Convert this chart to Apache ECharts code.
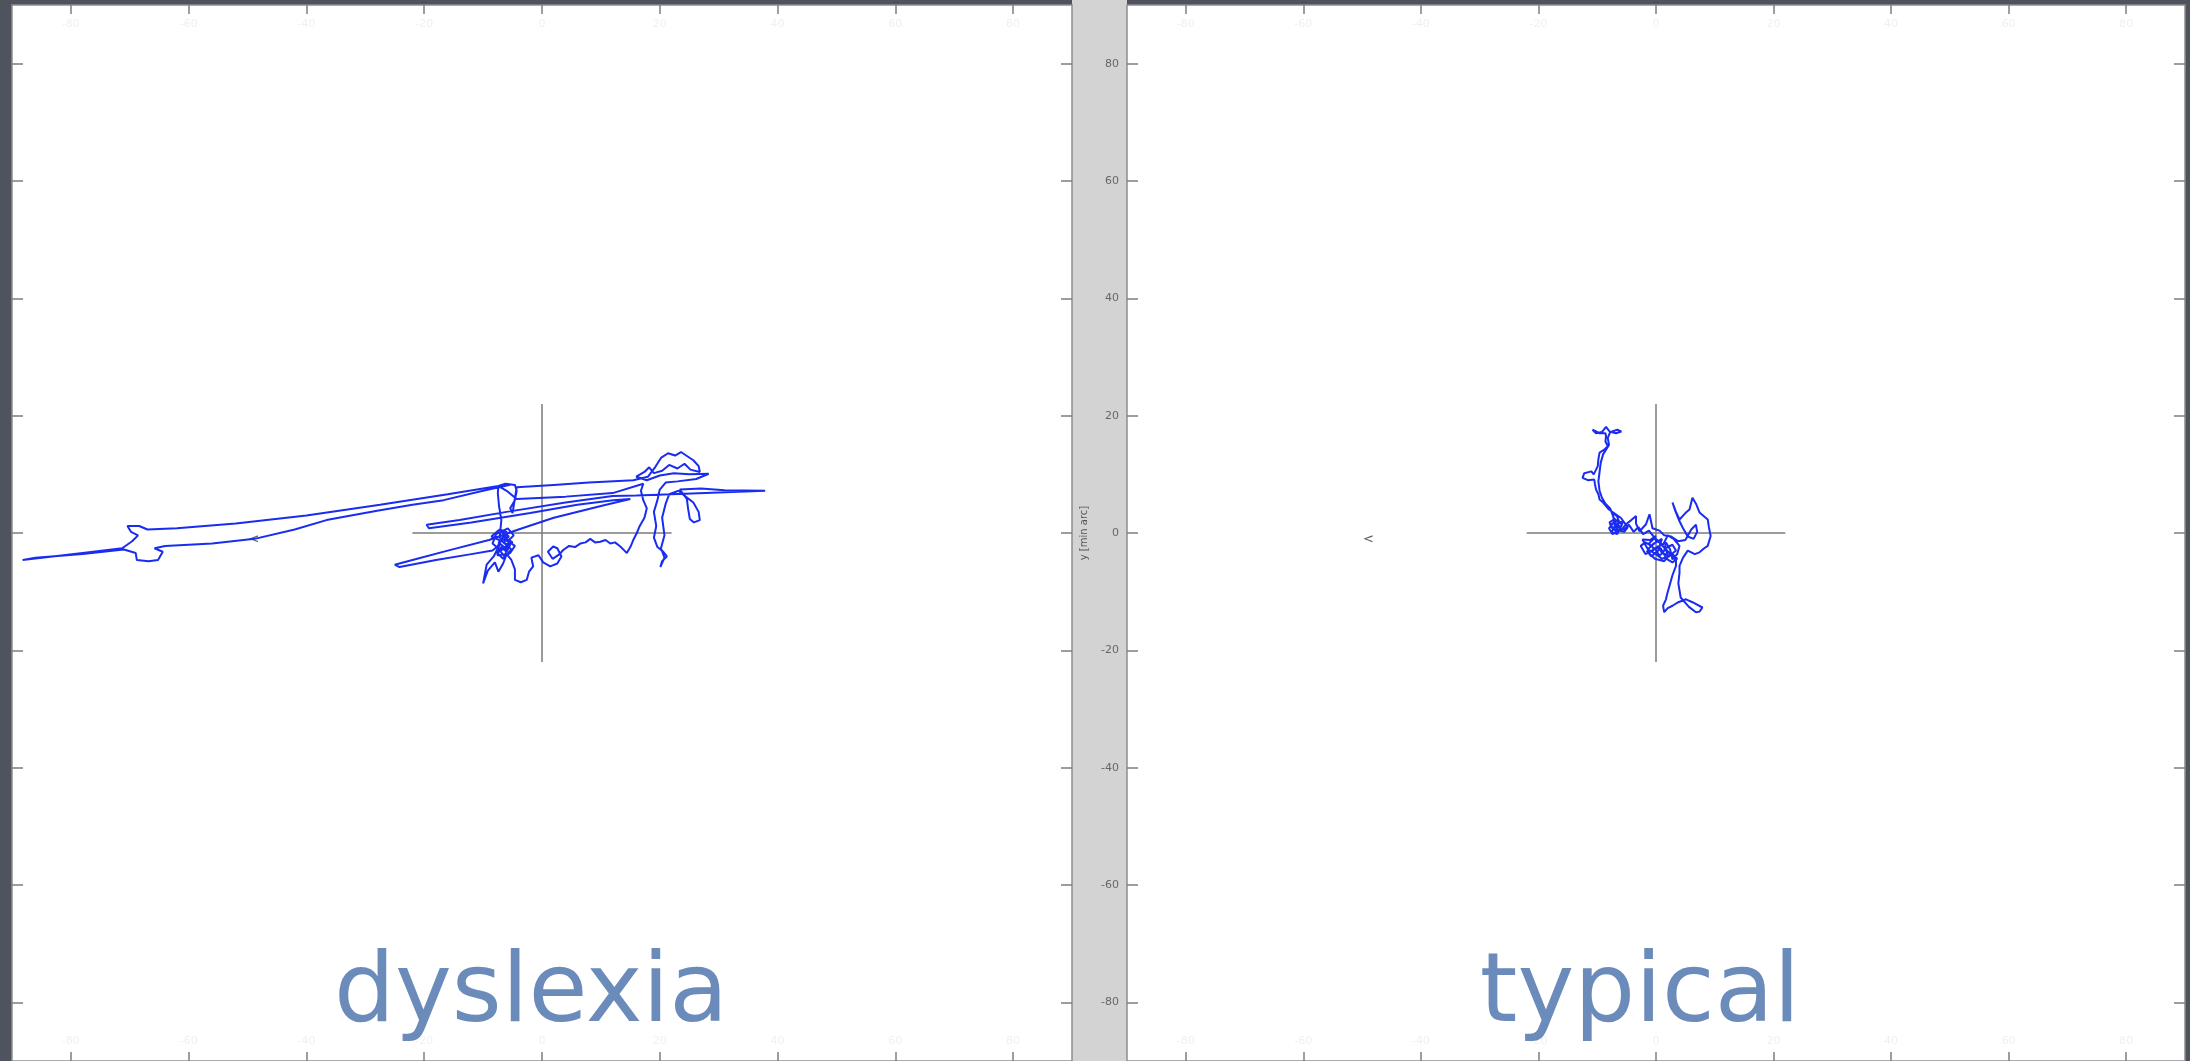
<!DOCTYPE html>
<html>
<head>
<meta charset="utf-8">
<script src="https://cdn.jsdelivr.net/npm/echarts@6/dist/echarts.min.js"></script>
<style>
html,body{margin:0;padding:0;background:#4f535e;width:2190px;height:1061px;overflow:hidden;}
#chart{width:2190px;height:1061px;}
</style>
</head>
<body>
<div id="chart"></div>
<script>
// ---- data ----
const panelTitles = ["dyslexia", "typical"];
const axisTickValues = [-80, -60, -40, -20, 0, 20, 40, 60, 80];
const axisRange = [-90, 90];
const yAxisTitle = "y [min arc]";
const crossH = [[-22, 0], [22, 0]];
const crossV = [[0, -22], [0, 22]];
const targetMarker = [[-49, -1]];

// dyslexia fixation trace [x, y] in min arc
const dyslexiaTrace = [
[-6.0,-1.0],[-6.8,0.2],[-5.6,-0.6],[-7.4,-1.6],[-6.2,-2.6],[-7.8,-3.2],[-6.6,-4.4],[-5.2,-2.8],[-6.8,-1.4],[-8.6,-0.6],[-7.2,0.6],[-6.0,0.2],
[-6.4,-1.8],[-5.4,-2.0],[-6.0,-3.2],[-7.0,-2.4],[-7.6,-3.8],[-6.2,-3.6],[-5.6,-1.2],[-4.8,-0.4],[-5.8,0.8],[-7.8,-0.2],[-8.4,-1.8],[-7.0,-3.0],[-6.0,-2.2],
[-5.0,-1.6],[-6.6,-0.6],[-7.6,-2.4],[-6.4,-4.0],[-5.4,-3.4],[-4.6,-2.2],[-5.8,-1.4],[-7.2,-0.8],
[-6.9,2.2],[-7.3,4.6],[-7.5,6.8],[-7.4,8.0],[-6.2,8.4],[-4.6,8.2],[-4.3,7.2],[-4.6,5.6],[-5.4,4.2],[-5.0,3.4],
[-4.3,7.8],[2.0,8.2],[8.0,8.6],[15.5,9.0],[18.0,9.6],
[19.2,11.2],[20.2,12.8],[21.4,13.6],[22.6,13.2],[23.6,13.8],[24.8,13.0],[25.7,12.4],[26.6,11.4],[26.8,10.4],[25.2,10.8],[24.2,11.8],[23.0,11.0],[21.6,11.6],[20.4,10.6],[19.0,10.2],[18.2,11.2],[17.4,10.4],[16.0,9.6],[17.8,9.0],[20.0,9.8],[22.4,10.2],[25.0,10.0],[28.3,10.1],[26.2,9.2],[23.0,8.8],[21.0,8.6],
[20.0,7.4],[19.6,5.6],[19.0,3.6],[19.4,1.2],[19.0,-0.8],[19.6,-2.4],[20.6,-3.2],[21.2,-4.0],[20.4,-4.8],[20.1,-5.8],[20.8,-4.2],[20.2,-2.6],[20.8,-0.4],[20.4,2.6],[21.0,5.0],[21.6,6.6],
[23.2,7.2],[24.4,6.2],[25.7,5.2],[26.6,3.6],[26.8,2.2],[25.8,1.8],[25.1,2.4],[24.8,4.2],[24.6,5.8],[23.4,7.4],
[27.0,7.6],[31.0,7.3],[37.9,7.2],
[30.0,6.9],[22.0,6.6],[16.0,6.4],[12.0,6.3],
[4.0,5.2],[-6.0,3.6],[-14.0,2.2],[-19.6,1.4],[-19.2,0.8],[-12.0,1.8],[-2.0,3.4],[6.0,4.8],[12.1,5.6],[15.0,5.8],
[10.0,4.6],[2.0,2.6],[-4.0,0.6],[-9.0,-1.2],[-16.0,-3.0],[-22.0,-4.6],[-25.0,-5.4],[-24.2,-5.8],[-18.0,-4.6],[-12.0,-3.6],[-8.4,-3.0],
[-7.2,-2.0],[-8.2,-4.0],[-9.4,-5.4],[-10.0,-8.6],[-9.2,-6.4],[-8.0,-5.0],[-7.4,-6.6],[-6.6,-5.2],[-6.0,-3.6],[-5.2,-4.6],[-4.6,-6.2],[-4.6,-8.0],[-3.6,-8.4],[-2.6,-8.0],[-2.2,-6.6],[-1.5,-5.7],[-1.8,-4.2],[-0.6,-3.8],[0.2,-5.0],[1.4,-5.7],[2.6,-5.2],[3.3,-4.0],[2.6,-2.6],[1.9,-2.3],[1.0,-3.2],[1.8,-4.4],[3.0,-3.6],[3.6,-2.9],
[4.6,-2.2],[5.6,-2.4],[6.5,-1.8],[7.4,-1.6],[8.2,-1.0],[9.0,-1.6],[9.9,-1.5],[10.8,-1.2],[11.6,-1.8],[12.4,-1.6],[13.3,-2.3],[14.0,-3.0],[14.4,-3.4],[15.0,-2.4],[15.5,-1.2],[16.1,0.0],[16.6,1.2],[17.4,2.6],[17.8,4.2],[17.2,5.6],[16.8,7.2],[17.2,8.4],
[12.0,6.8],[4.0,6.2],[-4.3,5.8],[-6.0,7.2],[-7.4,8.0],
[-16.0,6.6],[-27.5,4.8],[-40.0,3.0],[-52.0,1.6],[-62.0,0.8],[-67.0,0.6],
[-68.4,1.2],[-70.4,1.2],[-69.8,0.2],[-68.6,-0.4],[-69.6,-1.4],[-71.3,-2.6],
[-78.0,-3.4],[-88.2,-4.6],[-86.0,-4.2],[-78.0,-3.6],[-71.0,-2.8],
[-69.0,-3.4],[-68.8,-4.6],[-66.8,-4.8],[-65.2,-4.6],[-64.4,-3.2],[-65.8,-2.6],[-64.0,-2.2],
[-56.0,-1.8],[-48.8,-1.0],[-42.0,0.6],[-36.6,2.2],[-28.0,3.8],[-22.0,4.8],[-16.7,5.6],[-10.0,7.2],[-5.4,8.2]
];

// typical fixation trace [x, y] in min arc
const typicalTrace = [
[0.0,-0.5],[-1.0,-1.2],[-2.3,-1.1],[-1.6,-2.4],[-1.1,-3.3],[-0.2,-2.6],[0.6,-3.9],[1.4,-3.0],[1.7,-1.6],[2.4,-2.8],[2.8,-4.5],[3.6,-3.6],[4.0,-2.2],[3.0,-1.0],[2.0,-0.4],
[1.2,-2.0],[0.2,-1.4],[-0.8,-2.2],[-1.8,-1.6],[-2.6,-2.2],[-1.8,-3.6],[-0.6,-3.0],[0.4,-2.2],[1.0,-3.4],[2.0,-3.8],[1.6,-2.6],[2.8,-2.0],[3.4,-3.0],[2.2,-4.0],[1.0,-4.4],[0.0,-3.6],[-1.4,-2.8],[-0.4,-1.8],[1.0,-1.0],
[0.4,-3.0],[-0.8,-4.0],[-1.6,-3.0],[-0.2,-4.4],[1.4,-4.8],[2.6,-3.4],[3.6,-4.4],[2.8,-5.0],[1.8,-4.4],[0.8,-2.6],[-0.4,-2.6],[-1.2,-1.8],[-0.2,-0.8],
[3.4,-4.6],[3.4,-5.6],[2.8,-7.2],[2.3,-9.0],[1.9,-10.4],[1.7,-11.3],[1.2,-12.4],[1.4,-13.5],[2.0,-12.8],[2.8,-12.4],[3.8,-11.8],[5.1,-11.3],[6.2,-11.8],[7.9,-12.7],[7.4,-13.4],[6.8,-13.5],[5.6,-12.6],[4.2,-11.0],[3.8,-8.6],[4.0,-6.8],[4.0,-5.6],[4.6,-4.2],
[5.4,-3.0],[6.6,-3.6],[7.4,-3.3],[8.2,-2.6],[8.8,-2.2],[9.3,-0.5],[9.0,1.0],[8.8,2.3],[8.0,3.0],[7.4,3.5],[6.8,5.0],[6.2,6.0],[5.7,4.0],[5.0,3.4],[4.0,2.3],[3.4,3.6],[2.8,5.2],[3.2,4.0],[4.0,2.0],[4.6,0.8],[5.4,-0.6],[6.4,-1.0],[7.0,0.2],[6.8,1.4],[6.0,0.6],[5.0,-1.2],[3.8,-1.4],[2.6,-0.6],[1.4,-0.4],[0.6,0.4],
[-0.6,0.8],[-1.1,3.2],[-1.7,1.5],[-2.8,0.3],[-3.4,1.6],[-3.4,2.9],[-4.2,2.2],[-5.1,1.5],[-5.8,0.6],[-6.8,0.3],[-7.6,1.0],[-7.9,1.8],[-7.0,2.4],[-6.2,1.6],[-6.6,2.8],[-7.4,3.5],
[-7.0,1.2],[-6.4,0.4],[-7.4,-0.2],[-8.0,0.8],[-7.2,1.8],[-6.0,1.0],[-5.6,2.0],[-6.8,1.4],[-7.6,0.2],[-6.6,-0.2],
[-5.8,1.4],[-6.4,2.2],[-7.8,1.4],[-7.0,0.6],[-5.4,0.2],[-4.8,1.0],[-6.0,2.6],
[-8.0,4.0],[-8.5,4.6],[-9.0,5.2],[-9.6,5.7],[-9.8,6.6],[-10.2,7.4],[-10.4,8.4],[-10.5,9.1],[-11.6,9.0],[-12.5,9.4],[-12.2,10.2],[-11.0,10.5],[-10.6,10.0],[-9.9,11.4],[-9.8,12.6],[-9.6,13.7],[-8.8,14.2],[-8.2,14.8],[-8.6,15.6],[-8.5,16.5],[-8.6,17.0],
[-9.6,17.0],[-10.8,17.6],[-10.2,17.0],[-9.2,17.2],[-8.5,18.1],[-7.9,17.3],[-6.8,17.0],[-5.9,17.3],[-6.6,17.6],[-7.8,17.2],
[-8.2,16.2],[-8.0,15.0],[-9.0,13.4],[-9.4,12.0],[-9.6,10.4],[-9.8,8.8],[-9.6,7.2],[-9.2,6.0],[-8.6,5.0],[-7.8,4.2],
[-6.6,1.0],[-5.4,0.6],[-4.6,1.4],[-3.8,0.2],[-3.0,1.0],[-2.2,-0.2],[-1.2,0.4],[-0.4,-0.6],[0.2,-1.6]
];

// ---- chart ----
const chart = echarts.init(document.getElementById('chart'), null, {renderer: 'canvas'});
const FONT = 'DejaVu Sans';
const traceColor = '#1a2cf0';
const crossColor = '#7a7a7a';

function xAx(gridIndex, position) {
  return {
    type: 'value', gridIndex, position, min: axisRange[0], max: axisRange[1],
    axisLine: {show: false, onZero: false},
    splitLine: {show: false},
    axisTick: {show: true, inside: true, length: 9, customValues: axisTickValues, lineStyle: {color: '#7d7d7d', width: 1.5}},
    axisLabel: {show: true, inside: true, margin: 14, customValues: axisTickValues, color: '#f0f0f0', fontSize: 11, fontFamily: FONT}
  };
}
function yAx(gridIndex, position, labels) {
  return {
    type: 'value', gridIndex, position, min: axisRange[0], max: axisRange[1],
    axisLine: {show: false, onZero: false},
    splitLine: {show: false},
    axisTick: {show: true, inside: true, length: 11, customValues: axisTickValues, lineStyle: {color: '#7d7d7d', width: 1.5}},
    axisLabel: {show: labels, margin: 8, customValues: axisTickValues, color: '#666', fontSize: 11, fontFamily: FONT},
    name: labels ? yAxisTitle : '',
    nameLocation: 'middle', nameGap: 38, nameRotate: 90,
    nameTextStyle: {color: '#555', fontSize: 10, fontFamily: FONT}
  };
}

const option = {
  animation: false,
  backgroundColor: '#4f535e',
  grid: [
    {left: 12, top: 5, width: 1060, height: 1057, show: true, backgroundColor: '#ffffff', borderColor: '#8e8e8e', borderWidth: 1.5, containLabel: false},
    {left: 1127, top: 5, width: 1058, height: 1057, show: true, backgroundColor: '#ffffff', borderColor: '#8e8e8e', borderWidth: 1.5, containLabel: false}
  ],
  xAxis: [xAx(0, 'bottom'), xAx(0, 'top'), xAx(1, 'bottom'), xAx(1, 'top')],
  yAxis: [yAx(0, 'left', false), yAx(0, 'right', false), yAx(1, 'left', true), yAx(1, 'right', false)],
  graphic: [
    {type: 'rect', z: -1, shape: {x: 1072, y: 0, width: 55, height: 1061}, style: {fill: '#d3d3d3'}},
    {type: 'text', z: 100, x: 531, y: 996, style: {text: panelTitles[0], font: '96px "DejaVu Sans"', fill: '#6b8bba', textAlign: 'center', textVerticalAlign: 'middle'}},
    {type: 'text', z: 100, x: 1640, y: 996, style: {text: panelTitles[1], font: '96px "DejaVu Sans"', fill: '#6b8bba', textAlign: 'center', textVerticalAlign: 'middle'}}
  ],
  series: [
    {type: 'line', xAxisIndex: 0, yAxisIndex: 0, data: crossH, showSymbol: false, lineStyle: {color: crossColor, width: 1.5}, z: 2},
    {type: 'line', xAxisIndex: 0, yAxisIndex: 0, data: crossV, showSymbol: false, lineStyle: {color: crossColor, width: 1.5}, z: 2},
    {type: 'scatter', xAxisIndex: 0, yAxisIndex: 0, data: targetMarker, symbol: 'path://M10,0 L0,5 L10,10 L10,8 L3,5 L10,2 Z', symbolSize: [9, 7], itemStyle: {color: '#333'}, z: 2},
    {type: 'line', xAxisIndex: 0, yAxisIndex: 0, data: dyslexiaTrace, showSymbol: false, lineStyle: {color: traceColor, width: 2}, z: 3},
    {type: 'line', xAxisIndex: 2, yAxisIndex: 2, data: crossH, showSymbol: false, lineStyle: {color: crossColor, width: 1.5}, z: 2},
    {type: 'line', xAxisIndex: 2, yAxisIndex: 2, data: crossV, showSymbol: false, lineStyle: {color: crossColor, width: 1.5}, z: 2},
    {type: 'scatter', xAxisIndex: 2, yAxisIndex: 2, data: targetMarker, symbol: 'path://M10,0 L0,5 L10,10 L10,8 L3,5 L10,2 Z', symbolSize: [9, 7], itemStyle: {color: '#333'}, z: 2},
    {type: 'line', xAxisIndex: 2, yAxisIndex: 2, data: typicalTrace, showSymbol: false, lineStyle: {color: traceColor, width: 2}, z: 3}
  ]
};
chart.setOption(option);
</script>
</body>
</html>
